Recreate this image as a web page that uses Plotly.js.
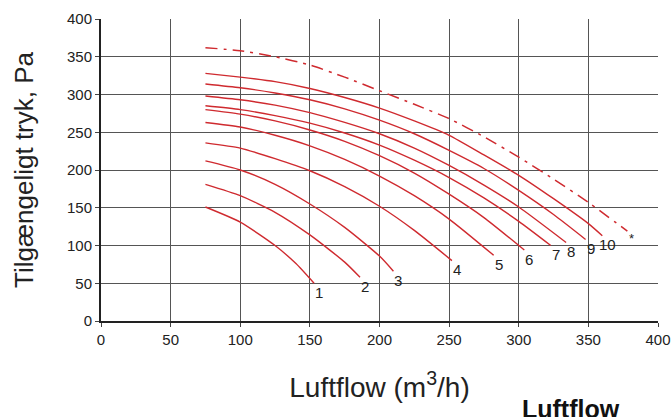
<!DOCTYPE html>
<html>
<head>
<meta charset="utf-8">
<script src="https://cdn.plot.ly/plotly-3.0.1.min.js"></script>
<style>html,body{margin:0;padding:0;background:#fff;}#chart{width:672px;height:417px;}</style>
</head>
<body>
<div id="chart"></div>
<script>
// Curve data: airflow (m3/h) vs available pressure (Pa)
const curveLabels = ["1","2","3","4","5","6","7","8","9","10"];
const flow1 = [75, 100, 125, 140, 153];
const pres1 = [151, 131, 100, 76, 50];
const flow2 = [75, 100, 125, 150, 175, 186];
const pres2 = [181, 166, 144, 114, 78, 58];
const flow3 = [75, 100, 125, 150, 175, 200, 210];
const pres3 = [212, 200, 181, 155, 124, 86, 66];
const flow4 = [75, 100, 125, 150, 175, 200, 225, 252];
const pres4 = [236, 229, 215, 199, 178, 152, 120, 80];
const flow5 = [75, 100, 125, 150, 175, 200, 225, 250, 282];
const pres5 = [263, 257, 246, 232, 214, 192, 166, 135, 87];
const flow6 = [75, 100, 125, 150, 175, 200, 225, 250, 275, 304];
const pres6 = [280, 274, 265, 253, 238, 219, 196, 168, 137, 94];
const flow7 = [75, 100, 125, 150, 175, 200, 225, 250, 275, 300, 323];
const pres7 = [285, 280, 272, 262, 249, 233, 213, 190, 163, 132, 100];
const flow8 = [75, 100, 125, 150, 175, 200, 225, 250, 275, 300, 334];
const pres8 = [298, 293, 286, 276, 263, 248, 229, 206, 180, 151, 104];
const flow9 = [75, 100, 125, 150, 175, 200, 225, 250, 275, 300, 325, 348];
const pres9 = [314, 309, 302, 293, 281, 266, 248, 226, 202, 173, 141, 108];
const flow10 = [75, 100, 125, 150, 175, 200, 225, 250, 275, 300, 325, 350, 360];
const pres10 = [328, 323, 317, 308, 296, 282, 265, 246, 220, 193, 162, 129, 113];
const flowMax = [75, 100, 125, 150, 175, 200, 225, 250, 275, 300, 325, 350, 378];
const presMax = [362, 358, 350, 339, 323, 305, 287, 268, 244, 217, 188, 157, 119];
const maxLabel = "*";
const xTicks = [0, 50, 100, 150, 200, 250, 300, 350, 400];
const yTicks = [0, 50, 100, 150, 200, 250, 300, 350, 400];

const RED = '#cf2a2f';
const FONT = 'Liberation Sans, Arial, Helvetica, sans-serif';
const flows = [flow1, flow2, flow3, flow4, flow5, flow6, flow7, flow8, flow9, flow10];
const press = [pres1, pres2, pres3, pres4, pres5, pres6, pres7, pres8, pres9, pres10];

const traces = flows.map((f, i) => ({
  x: f, y: press[i], type: 'scatter', mode: 'lines',
  line: {color: RED, width: 1.4, shape: 'spline', smoothing: 0.6},
  hoverinfo: 'x+y', showlegend: false
}));
traces.push({
  x: flowMax, y: presMax, type: 'scatter', mode: 'lines',
  line: {color: RED, width: 1.5, dash: '12px,6px,3px,6px', shape: 'spline', smoothing: 0.6},
  showlegend: false
});

const annotations = flows.map((f, i) => ({
  x: f[f.length - 1], y: press[i][press[i].length - 1],
  xref: 'x', yref: 'y', text: curveLabels[i], showarrow: false,
  xanchor: 'center', yanchor: 'middle', xshift: 5, yshift: -9,
  font: {family: FONT, size: 15, color: '#222'}
}));
annotations.push({
  x: flowMax[flowMax.length - 1], y: presMax[presMax.length - 1],
  xref: 'x', yref: 'y', text: maxLabel, showarrow: false,
  xanchor: 'center', yanchor: 'middle', xshift: 4, yshift: -7,
  font: {family: FONT, size: 13, color: '#222'}
});

const L = 101, R = 14, T = 19, B = 96, W = 672, H = 417;
const pw = W - L - R, ph = H - T - B;
// bold caption at the bottom edge (pixel position converted to paper coords)
annotations.push({
  x: (571 - L) / pw, y: (H - B - 393) / ph, xref: 'paper', yref: 'paper',
  text: '<b>Luftflow</b>', showarrow: false, xanchor: 'center', yanchor: 'top',
  font: {family: FONT, size: 25, color: '#111'}
});

const layout = {
  width: W, height: H,
  margin: {l: L, r: R, t: T, b: B, pad: 0},
  paper_bgcolor: '#fff', plot_bgcolor: '#fff',
  font: {family: FONT, size: 15, color: '#222'},
  showlegend: false,
  xaxis: {
    range: [0, 400], tickvals: xTicks, ticktext: xTicks.map(String),
    showgrid: true, gridcolor: '#555', gridwidth: 1,
    zeroline: false, showline: true, linecolor: '#222', linewidth: 2,
    ticks: 'outside', ticklen: 4, tickcolor: '#444',
    tickfont: {family: FONT, size: 15, color: '#222'},
    title: {text: 'Luftflow (m<sup>3</sup>/h)', font: {family: FONT, size: 28, color: '#222'}, standoff: 30},
    automargin: false, fixedrange: true
  },
  yaxis: {
    range: [0, 400], tickvals: yTicks, ticktext: yTicks.map(String),
    showgrid: true, gridcolor: '#555', gridwidth: 1,
    zeroline: false, showline: true, linecolor: '#222', linewidth: 2,
    ticks: 'outside', ticklen: 4, tickcolor: '#444',
    tickfont: {family: FONT, size: 15, color: '#222'},
    title: {text: 'Tilgængeligt tryk, Pa', font: {family: FONT, size: 26, color: '#222'}, standoff: 26},
    automargin: false, fixedrange: true
  },
  annotations: annotations
};

Plotly.newPlot('chart', traces, layout, {displayModeBar: false, staticPlot: true});
</script>
</body>
</html>
